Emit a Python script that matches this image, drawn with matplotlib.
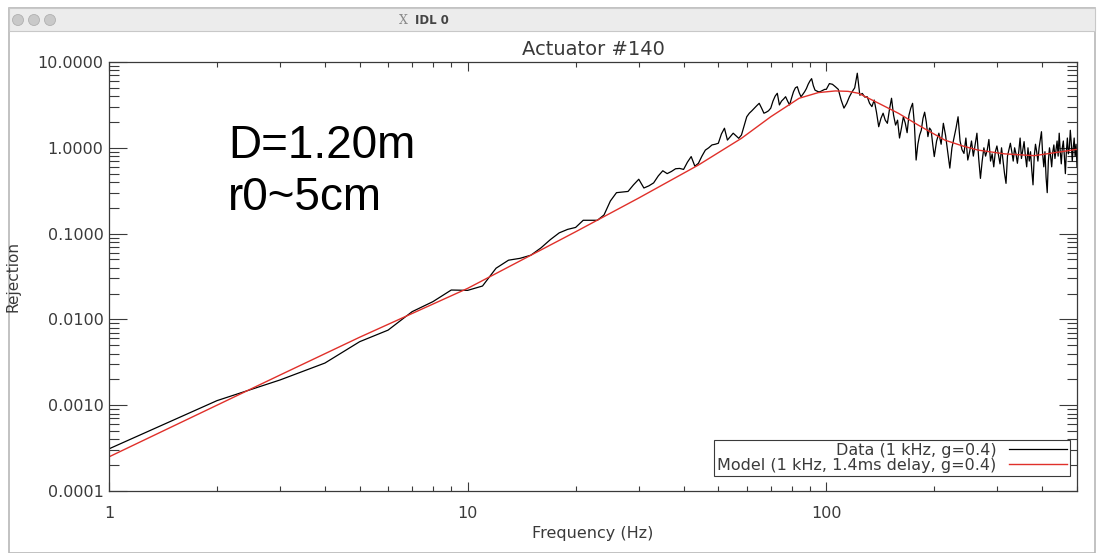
import numpy as np
import matplotlib.pyplot as plt
from matplotlib.patches import Rectangle, Circle
from matplotlib.ticker import FixedLocator, LogLocator, NullFormatter

# dados medidos (1 Hz de resolucao ate 100 Hz)
freq_baixa = list(range(1, 101))
rej_baixa = [3.1e-4, 1.13e-3, 1.97e-3, 3.1e-3, 5.5e-3, 7.5e-3, 0.0123, 0.0161, 0.022, 0.0218,
             0.0245, 0.0395, 0.049, 0.0515, 0.056, 0.068, 0.085, 0.102, 0.112, 0.118,
             0.143, 0.143, 0.143, 0.165, 0.24, 0.30, 0.305, 0.31, 0.37, 0.43,
             0.34, 0.36, 0.39, 0.47, 0.54, 0.50, 0.53, 0.57, 0.575, 0.56,
             0.68, 0.79, 0.61, 0.66, 0.80, 0.94, 1.0, 1.08, 1.10, 1.13,
             1.45, 1.69, 1.23, 1.35, 1.48, 1.38, 1.29, 1.41, 1.8, 2.3,
             2.53, 2.7, 2.9, 3.1, 3.3, 2.9, 2.53, 2.6, 2.7, 2.9,
             3.5, 4.0, 4.32, 3.16, 3.5, 3.7, 3.94, 3.5, 3.16, 3.8,
             4.5, 5.0, 5.15, 4.4, 3.94, 4.2, 4.5, 4.9, 5.5, 6.0,
             6.4, 5.3, 4.7, 4.6, 4.5, 4.5, 4.6, 4.7, 4.8, 4.8]

freq_media = list(range(102, 201, 2))
rej_media = [5.6, 5.5, 5.15, 4.8, 3.6, 2.9, 3.3, 3.94, 4.5, 5.0,
             7.4, 4.1, 4.3, 3.9, 3.94, 3.3, 3.02, 3.6, 2.6, 1.76,
             2.2, 2.53, 2.1, 1.93, 2.8, 3.78, 2.4, 1.84, 2.1, 1.3,
             1.7, 2.3, 1.94, 1.5, 2.4, 2.9, 3.3, 1.9, 0.72, 1.1,
             1.4, 1.6, 2.2, 2.6, 2.0, 1.35, 1.7, 1.6, 1.1, 0.79]

freq_alta = list(range(203, 501, 3))
rej_alta = [1.2, 1.48, 1.1, 1.93, 1.4, 0.9, 0.58, 1.0, 1.3, 1.7,
            2.3, 1.2, 0.95, 0.86, 1.3, 0.72, 0.9, 1.2, 0.8, 1.1,
            1.48, 0.75, 0.44, 0.7, 1.0, 0.8, 0.94, 1.25, 0.7, 0.85,
            0.60, 0.9, 1.05, 0.82, 0.65, 1.0, 0.7, 0.5, 0.385, 0.8,
            0.95, 1.13, 0.9, 0.7, 1.0, 0.85, 0.66, 0.9, 1.3, 0.75,
            0.95, 1.18, 0.8, 0.6, 1.0, 0.7, 0.9, 0.55, 0.37, 0.8,
            1.1, 0.9, 0.7, 1.0, 1.25, 1.54, 0.85, 0.6, 0.9, 0.45,
            0.30, 0.7, 1.0, 0.8, 0.6, 0.9, 1.08, 0.75, 0.95, 1.2,
            0.8, 1.48, 0.9, 0.65, 1.0, 1.2, 0.8, 0.50, 0.9, 1.3,
            0.85, 1.0, 1.6, 1.13, 0.7, 1.0, 1.3, 0.8, 1.1, 0.60]

# modelo
freq_modelo = [1, 2, 3, 5, 10, 20, 30, 44, 58, 70, 84, 95, 106, 115, 123,
               140, 159, 180, 214, 240, 265, 314, 380, 452, 500]
rej_modelo = [2.5e-4, 1.0e-3, 2.25e-3, 6.2e-3, 0.023, 0.105, 0.26, 0.63, 1.29, 2.3,
              3.78, 4.4, 4.6, 4.55, 4.32, 3.3, 2.52, 1.85, 1.23, 1.05,
              0.94, 0.85, 0.81, 0.90, 0.96]

y_ticks = [1e-4, 1e-3, 1e-2, 1e-1, 1, 10]
y_labels = ['0.0001', '0.0010', '0.0100', '0.1000', '1.0000', '10.0000']
x_ticks = [1, 10, 100]
x_labels = ['1', '10', '100']

freq = freq_baixa + freq_media + freq_alta
rej = rej_baixa + rej_media + rej_alta

cinza = '#3a3a3a'
fig = plt.figure(figsize=(11.04, 5.53), dpi=100)

# moldura da janela
fig.patches.append(Rectangle((0, 0), 1, 1, transform=fig.transFigure,
                             facecolor='white', edgecolor='none', zorder=-3))
fig.patches.append(Rectangle((0.008, 0.0), 0.984, 0.985, transform=fig.transFigure,
                             facecolor='white', edgecolor='#b8b8b8', lw=1.2, zorder=-2))
fig.patches.append(Rectangle((0.008, 1 - 31 / 553), 0.984, 23 / 553, transform=fig.transFigure,
                             facecolor='#ececec', edgecolor='#c8c8c8', lw=0.8, zorder=-1))
for cx in [18, 34, 50]:
    # circulos em polegadas pra ficarem redondos
    fig.patches.append(Circle((cx / 100, (553 - 20) / 100), 0.055,
                              transform=fig.dpi_scale_trans, facecolor='#c9c9c9',
                              edgecolor='#b0b0b0', lw=0.6))
fig.text(403 / 1104, 1 - 20 / 553, 'X', fontsize=9, color='#888888', ha='center', va='center',
         family='DejaVu Serif')
fig.text(415 / 1104, 1 - 20 / 553, 'IDL 0', fontsize=8.5, color='#444444', ha='left', va='center',
         fontweight='bold')

ax = fig.add_axes([109 / 1104, 1 - 491 / 553, 968 / 1104, 429 / 553])
ax.plot(freq, rej, color='black', lw=0.9, label='Data (1 kHz, g=0.4)')
ax.plot(freq_modelo, rej_modelo, color='#e0302a', lw=1.0,
        label='Model (1 kHz, 1.4ms delay, g=0.4)')

ax.set_xscale('log')
ax.set_yscale('log')
ax.set_xlim(1, 500)
ax.set_ylim(1e-4, 10)

ax.xaxis.set_major_locator(FixedLocator(x_ticks))
ax.set_xticklabels(x_labels)
ax.xaxis.set_minor_locator(LogLocator(base=10, subs=np.arange(2, 10)))
ax.xaxis.set_minor_formatter(NullFormatter())
ax.yaxis.set_major_locator(FixedLocator(y_ticks))
ax.set_yticklabels(y_labels)
ax.yaxis.set_minor_locator(LogLocator(base=10, subs=np.arange(2, 10)))
ax.yaxis.set_minor_formatter(NullFormatter())

ax.tick_params(axis='both', which='both', direction='in', top=True, right=True,
               color=cinza, labelcolor=cinza, labelsize=11.5, width=0.8)
ax.tick_params(axis='y', which='major', length=13, pad=4)
ax.tick_params(axis='y', which='minor', length=7)
ax.tick_params(axis='x', which='major', length=6.5, pad=11)
ax.tick_params(axis='x', which='minor', length=3.5)
for s in ax.spines.values():
    s.set_color(cinza)
    s.set_linewidth(0.9)

ax.set_title('Actuator #140', fontsize=14, color=cinza, pad=5)
ax.set_xlabel('Frequency (Hz)', fontsize=11.5, color=cinza)
ax.xaxis.set_label_coords(0.5, -(526 - 491) / 429)
ax.set_ylabel('Rejection', fontsize=11, color=cinza)
ax.yaxis.set_label_coords(-89 / 968, 0.5)

ax.text((228 - 109) / 968, 1 - (158 - 62) / 429, 'D=1.20m', transform=ax.transAxes,
        fontsize=33, family='Liberation Sans', color='black', va='baseline')
ax.text((228 - 109) / 968, 1 - (210 - 62) / 429, 'r0~5cm', transform=ax.transAxes,
        fontsize=33, family='Liberation Sans', color='black', va='baseline')

leg = ax.legend(loc='lower right', bbox_to_anchor=(1 - 7 / 968, 15 / 429), markerfirst=False,
                fancybox=False, framealpha=1, edgecolor=cinza, fontsize=11.5,
                handlelength=3.6, borderpad=0.2, labelspacing=0.0, handletextpad=0.8,
                borderaxespad=0)
leg.get_frame().set_linewidth(0.8)
for t in leg.get_texts():
    t.set_color(cinza)

fig.savefig('out.png', dpi=100)
